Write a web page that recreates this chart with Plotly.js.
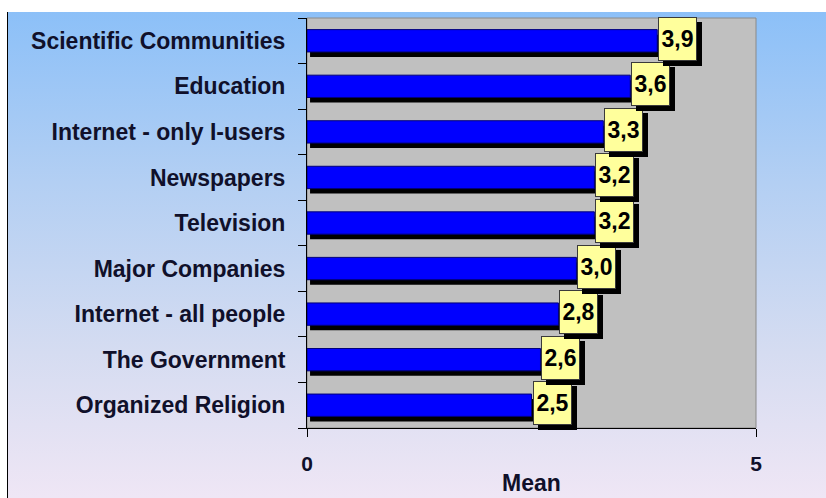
<!DOCTYPE html>
<html>
<head>
<meta charset="utf-8">
<script src="https://cdn.plot.ly/plotly-3.0.1.min.js"></script>
<style>
html, body { margin:0; padding:0; width:826px; height:498px; background:#ffffff; overflow:hidden; }
#bg { position:absolute; left:7px; top:12px; width:819px; height:486px;
  border-left:1px solid #000;
  background: linear-gradient(to bottom, #8cc0f8 0%, #b3cff3 35%, #d5dcf1 70%, #efe6f5 100%); }
#chart { position:absolute; left:0; top:0; width:826px; height:498px; }
</style>
</head>
<body>
<div id="bg"></div>
<div id="chart"></div>
<script>
// Data (bottom to top order as drawn on the category axis)
const categories = ["Organized Religion", "The Government", "Internet - all people", "Major Companies",
  "Television", "Newspapers", "Internet - only I-users", "Education", "Scientific Communities"];
const means = [2.5, 2.6, 2.8, 3.0, 3.2, 3.2, 3.3, 3.6, 3.9];
const valueLabels = ["2,5", "2,6", "2,8", "3,0", "3,2", "3,2", "3,3", "3,6", "3,9"];
const xTicks = [0, 5];

const barWidth = 0.49;
const shadowDx = 0.034;   // in axis units (~3px)
const shadowDy = 0.11;    // in category units (~5px)

const shadow = {
  type: 'bar', orientation: 'h', y: categories, x: means,
  base: means.map(() => shadowDx),
  width: barWidth, offset: -barWidth / 2 - shadowDy,
  marker: { color: '#000000' }, hoverinfo: 'skip', showlegend: false
};
const bars = {
  type: 'bar', orientation: 'h', y: categories, x: means,
  width: barWidth,
  marker: { color: '#0000ff', line: { color: '#00007a', width: 1 } },
  showlegend: false
};

const annotations = [];
categories.forEach((c, i) => {
  annotations.push({
    x: means[i], y: c, xref: 'x', yref: 'y', text: '', showarrow: false,
    xanchor: 'left', yanchor: 'middle', xshift: 6, yshift: -3,
    width: 35, height: 40, borderpad: 1, borderwidth: 1,
    bgcolor: '#000000', bordercolor: '#000000'
  });
  annotations.push({
    x: means[i], y: c, xref: 'x', yref: 'y', text: valueLabels[i], showarrow: false,
    xanchor: 'left', yanchor: 'middle', xshift: 1, yshift: 2,
    width: 35, height: 40, borderpad: 1, borderwidth: 1,
    bgcolor: '#ffff9c', bordercolor: '#3a3a3a',
    font: { family: 'Liberation Sans, Arial, sans-serif', size: 23, color: '#000000', weight: 'bold' }
  });
});

const layout = {
  width: 826, height: 498,
  margin: { l: 307, r: 70, t: 18, b: 70 },
  paper_bgcolor: 'rgba(0,0,0,0)',
  plot_bgcolor: '#c0c0c0',
  barmode: 'overlay',
  font: { family: 'Liberation Sans, Arial, sans-serif', color: '#10102a' },
  xaxis: {
    range: [0, 5], tickvals: xTicks, ticktext: xTicks.map(String),
    showgrid: false, zeroline: false, showline: true, linecolor: '#000000', linewidth: 1,
    ticks: 'outside', ticklen: 8, tickcolor: '#000000',
    ticklabelstandoff: 9,
    tickfont: { size: 21, weight: 'bold', color: '#10102a' },
    title: { text: 'Mean', font: { size: 23, weight: 'bold', color: '#10102a' }, standoff: 0 }
  },
  yaxis: {
    type: 'category', categoryorder: 'array', categoryarray: categories,
    range: [-0.5, categories.length - 0.5],
    showgrid: false, zeroline: false, showline: true, linecolor: '#000000', linewidth: 1,
    ticks: 'outside', ticklen: 8, tickcolor: '#000000', tickson: 'boundaries',
    ticklabelstandoff: 16,
    tickfont: { size: 23, weight: 'bold', color: '#10102a' }
  },
  shapes: [{
    type: 'rect', xref: 'paper', yref: 'paper', x0: 0, x1: 1, y0: 0, y1: 1,
    line: { color: '#8a8a8a', width: 1 }, fillcolor: 'rgba(0,0,0,0)', layer: 'below'
  }],
  annotations: annotations
};

Plotly.newPlot('chart', [shadow, bars], layout, { displayModeBar: false, staticPlot: true });
</script>
</body>
</html>
